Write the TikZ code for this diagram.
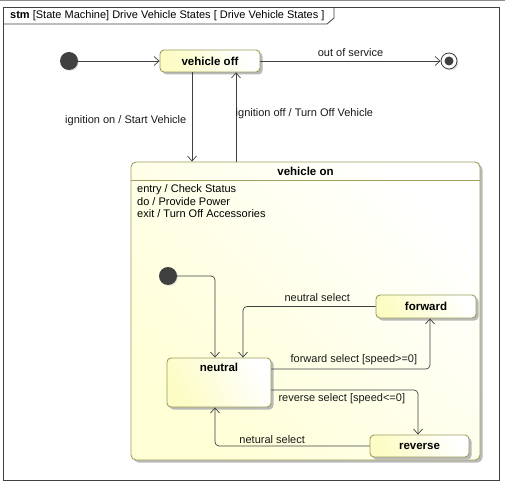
\documentclass[tikz,border=0pt]{standalone}
\usepackage{fontspec}
\setmainfont{Liberation Sans}
\usepackage{xcolor}
\usepackage{tikz}
\usetikzlibrary{arrows.meta,positioning,shadows}
\definecolor{stborder}{HTML}{9E9E60}
\definecolor{stfill}{HTML}{FCFCC4}
\definecolor{onfill}{HTML}{FFFFD6}
\definecolor{linecol}{HTML}{404040}

\begin{document}
\begin{tikzpicture}[
  x=1pt, y=-1pt,
  font=\fontsize{11}{13}\selectfont,
  shadowed/.style={drop shadow={shadow xshift=2.5pt, shadow yshift=-2.5pt,
                   fill=black!30, opacity=0.9}},
  state/.style={draw=stborder, line width=0.9pt, rounded corners=4pt,
                left color=stfill, right color=white, shading angle=120,
                shadowed, align=center, inner sep=2pt,
                font=\fontsize{11.5}{13}\selectfont\bfseries},
  bigstate/.style={draw=stborder, line width=0.9pt, rounded corners=5pt,
                   left color=onfill, right color=white, shading angle=135,
                   shadowed, inner sep=0pt},
  initial/.style={circle, fill=linecol, minimum size=18pt, inner sep=0pt,
                  drop shadow={shadow xshift=1pt, shadow yshift=-1pt, fill=black!20}},
  final/.style={circle, draw=linecol, line width=0.8pt, fill=white,
                minimum size=16pt, inner sep=0pt,
                drop shadow={shadow xshift=1.5pt, shadow yshift=-1.5pt, fill=black!25}},
  trans/.style={-{Straight Barb[length=5pt,width=9pt]}, draw=linecol,
                line width=0.7pt, rounded corners=4pt},
  lbl/.style={inner sep=3.5pt, text=black!90},
]
\useasboundingbox (0,0) rectangle (505,486);

%============================ FRAME ============================
\draw[black!45, line width=0.8pt] (0,0.5) -- (505,0.5);
\draw[linecol, line width=0.8pt] (3,7) rectangle (499,480);
\draw[linecol, line width=0.8pt] (3,24) -- (327,24) -- (334,18) -- (334,7);
\node[anchor=west, inner sep=0pt] (hdr) at (10,15.5)
  {\textbf{stm} [State Machine] Drive Vehicle States [ Drive Vehicle States ]};

%============================ TOP LEVEL ============================
\node[initial] (init1) at (69,61) {};
\node[state, minimum width=100pt, minimum height=22pt] (off) at (210,61) {vehicle off};
\node[final] (fin) at (449,61) {};
\fill[linecol] (fin) circle (4.5pt);

% composite state
\node[bigstate, minimum width=349pt, minimum height=298pt] (on) at (305.5,311) {};
\node[font=\fontsize{11.5}{13}\selectfont\bfseries, below=5pt of on.north, inner sep=0pt] (ontitle) {vehicle on};
\draw[stborder, line width=0.9pt] (on.north west |- 0,180) -- (on.north east |- 0,180);
\node[anchor=north west, align=left, inner sep=0pt,
      font=\fontsize{11}{12.5}\selectfont] (acts) at (137,184.5)
  {entry / Check Status\\do / Provide Power\\exit / Turn Off Accessories};

\draw[trans] (init1) -- (off);
\draw[trans] (off) -- node[lbl, above, inner sep=4.5pt] {out of service} (fin);
\draw[trans] ([xshift=-18pt]off.south) -- ([xshift=-18pt]off.south |- on.north);
\draw[trans] ([xshift=26pt]off.south |- on.north) -- ([xshift=26pt]off.south);
\node[lbl, anchor=east] at (190,121) {ignition on / Start Vehicle};
\node[lbl, anchor=west] at (232,114) {ignition off / Turn Off Vehicle};

%============================ INSIDE vehicle on ============================
\node[initial] (init2) at (168,276) {};
\node[state, minimum width=104pt, minimum height=49pt] (neutral) at (219,382.5) {};
\node[font=\fontsize{11.5}{13}\selectfont\bfseries, below=5pt of neutral.north, inner sep=0pt] {neutral};
\node[state, minimum width=100pt, minimum height=23pt] (fwd) at (426,306.5) {forward};
\node[state, minimum width=99pt, minimum height=22pt] (rev) at (419.5,446) {reverse};

\draw[trans] (init2) -| ([xshift=-4pt]neutral.north);
\draw[trans] (fwd.west) -| node[lbl, above, pos=0.22, inner sep=5pt] {neutral select} ([xshift=24pt]neutral.north);
\draw[trans] ([yshift=13.5pt]neutral.east) -| node[lbl, above, pos=0.26] {forward select [speed>=0]} ([xshift=4pt]fwd.south);
\draw[trans] ([yshift=-7.5pt]neutral.east) -| node[lbl, below, pos=0.24] {reverse select [speed<=0]} ([xshift=-1.5pt]rev.north);
\draw[trans] (rev.west) -| node[lbl, above, pos=0.315, inner sep=2pt] {netural select} ([xshift=-4pt]neutral.south);

\end{tikzpicture}
\end{document}
